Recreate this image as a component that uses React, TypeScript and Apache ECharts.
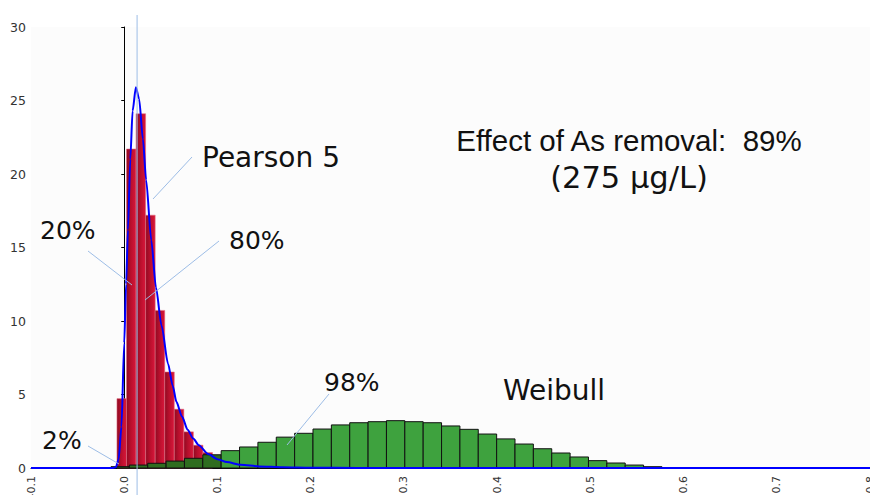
import React, { useEffect, useRef } from "react";
import * as echarts from "echarts";

// ---- data ----
const X_MIN = -0.1;
const X_MAX = 0.8;
const X_STEP = 0.1;
const Y_MIN = 0;
const Y_MAX = 30;
const Y_STEP = 5;

// Pearson 5 fitted histogram (red)
const RED_START = -0.0078;
const RED_WIDTH = 0.01025;
const RED_VALUES = [4.72, 21.7, 24.1, 17.2, 10.72, 6.53, 4.0, 2.46, 1.55, 1.05];

// Weibull histogram (green)
const GREEN_START = -0.0142;
const GREEN_WIDTH = 0.0197;
const GREEN_VALUES = [
  0.09, 0.2, 0.32, 0.47, 0.66, 0.9, 1.18, 1.43, 1.75, 2.1, 2.36, 2.65, 2.93, 3.08, 3.15,
  3.22, 3.15, 3.08, 2.86, 2.63, 2.31, 1.98, 1.63, 1.31, 1.02, 0.75, 0.5, 0.34, 0.2, 0.09,
  0.03,
];

// Pearson 5 density curve (blue)
const CURVE_X = [
  -0.1, -0.012, -0.009, -0.006, -0.003, 0.0, 0.002, 0.004, 0.0065, 0.009, 0.0125, 0.016,
  0.02, 0.0235, 0.029, 0.034, 0.04, 0.047, 0.052, 0.056, 0.062, 0.068, 0.074, 0.08, 0.09,
  0.1, 0.11, 0.125, 0.145, 0.17, 0.2, 0.25, 0.8,
];
const CURVE_Y = [
  0, 0, 0.05, 0.6, 2.8, 8.5, 12.5, 16.2, 21.0, 24.3, 25.9, 25.1, 22.4, 19.6, 15.5, 12.3,
  9.7, 7.1, 5.6, 4.5, 3.5, 2.6, 2.0, 1.55, 0.95, 0.6, 0.4, 0.22, 0.11, 0.05, 0.02, 0, 0,
];

// Marker (vertical reference line)
const MARKER_X = 0.0138;

// Annotation texts
const LABEL_20 = "20%";
const LABEL_80 = "80%";
const LABEL_98 = "98%";
const LABEL_2 = "2%";
const LABEL_PEARSON = "Pearson 5";
const LABEL_WEIBULL = "Weibull";
const EFFECT_LINE1 = "Effect of As removal:  89%";
const EFFECT_LINE2 = "(275 µg/L)";

export default function App() {
  const ref = useRef<HTMLDivElement>(null);

  useEffect(() => {
    if (!ref.current) return;
    const chart = echarts.init(ref.current, undefined, { renderer: "svg" });

    const redData = RED_VALUES.map((v, i) => [
      RED_START + i * RED_WIDTH,
      RED_START + (i + 1) * RED_WIDTH,
      v,
    ]);
    const redEnd = RED_START + RED_VALUES.length * RED_WIDTH;
    const greenData = GREEN_VALUES.map((v, i) => [
      GREEN_START + i * GREEN_WIDTH,
      GREEN_START + (i + 1) * GREEN_WIDTH,
      v,
    ]);
    const curveData = CURVE_X.map((x, i) => [x, CURVE_Y[i]]);

    const redFill = new echarts.graphic.LinearGradient(0, 0, 1, 0, [
      { offset: 0, color: "#8f0a22" },
      { offset: 0.45, color: "#b80f2c" },
      { offset: 1, color: "#d8173b" },
    ]);

    const renderRed = (params: any, api: any) => {
      const p0 = api.coord([api.value(0), api.value(2)]);
      const p1 = api.coord([api.value(1), 0]);
      return {
        type: "rect",
        shape: { x: p0[0], y: p0[1], width: p1[0] - p0[0], height: p1[1] - p0[1] },
        style: { fill: redFill, stroke: "rgba(225,110,130,0.55)", lineWidth: 1 },
      };
    };
    const renderGreen = (params: any, api: any) => {
      const x0 = api.value(0);
      const p0 = api.coord([x0, api.value(2)]);
      const p1 = api.coord([api.value(1), 0]);
      const dark = x0 < redEnd - 0.005;
      return {
        type: "rect",
        shape: { x: p0[0], y: p0[1], width: p1[0] - p0[0], height: p1[1] - p0[1] },
        style: { fill: dark ? "#2f6d1f" : "#3ea23e", stroke: "#111", lineWidth: 1 },
      };
    };

    const leader = "#9dbde6";
    const textFont = "DejaVu Sans";

    chart.setOption({
      animation: false,
      grid: {
        left: 31,
        right: 0,
        top: 27,
        bottom: 27,
        containLabel: false,
        outerBoundsMode: "none",
        show: true,
        backgroundColor: "#fcfcfc",
        borderWidth: 0,
      },
      xAxis: {
        type: "value",
        min: X_MIN,
        max: X_MAX,
        interval: X_STEP,
        axisLine: { show: true, lineStyle: { color: "#000", width: 1 } },
        axisTick: { show: false },
        splitLine: { show: false },
        axisLabel: {
          rotate: 90,
          margin: 8,
          fontSize: 11,
          color: "#333",
          fontFamily: textFont,
          hideOverlap: false,
          formatter: (v: number) => v.toFixed(1),
        },
      },
      yAxis: {
        type: "value",
        min: Y_MIN,
        max: Y_MAX,
        interval: Y_STEP,
        axisLine: { show: true, lineStyle: { color: "#000", width: 1 } },
        axisTick: { show: true, length: 3, lineStyle: { color: "#000" } },
        splitLine: { show: false },
        axisLabel: { fontSize: 12.5, color: "#333", margin: 5, fontFamily: textFont },
      },
      series: [
        {
          type: "custom",
          name: "Pearson histogram",
          renderItem: renderRed,
          data: redData,
          encode: { x: [0, 1], y: 2 },
          z: 2,
        },
        {
          type: "custom",
          name: "Weibull histogram",
          renderItem: renderGreen,
          data: greenData,
          encode: { x: [0, 1], y: 2 },
          z: 3,
        },
        {
          type: "line",
          name: "Pearson 5",
          data: curveData,
          showSymbol: false,
          smooth: 0.25,
          smoothMonotone: "x",
          lineStyle: { color: "#0000ff", width: 2 },
          z: 5,
        },
      ],
    });

    const mx = chart.convertToPixel({ xAxisIndex: 0 }, MARKER_X) as number;

    const txt = (text: string, x: number, y: number, size: number, family = textFont, align = "left") => ({
      type: "text",
      x,
      y,
      z: 20,
      style: {
        text,
        fontSize: size,
        fontFamily: family,
        fill: "#111",
        textAlign: align,
        textVerticalAlign: "bottom",
      },
    });
    const ln = (x1: number, y1: number, x2: number, y2: number) => ({
      type: "line",
      z: 15,
      shape: { x1, y1, x2, y2 },
      style: { stroke: leader, lineWidth: 1 },
    });

    chart.setOption({
      graphic: [
        {
          type: "line",
          z: 10,
          shape: { x1: mx, y1: 15, x2: mx, y2: 495 },
          style: { stroke: leader, lineWidth: 1 },
        },
        ln(192, 157, 153, 199),
        ln(88, 251, 132, 285),
        ln(219, 241, 145, 300),
        ln(329, 394, 287, 445),
        ln(88, 446, 119, 464),
        txt(LABEL_20, 40, 243, 25),
        txt(LABEL_80, 229, 253, 25),
        txt(LABEL_98, 324, 395, 25),
        txt(LABEL_2, 42, 453, 25),
        txt(LABEL_PEARSON, 202, 171, 28),
        txt(LABEL_WEIBULL, 503, 404, 28),
        txt(EFFECT_LINE1, 629, 155, 29.5, "Liberation Sans", "center"),
        txt(EFFECT_LINE2, 629, 193, 30.5, textFont, "center"),
      ],
    });

    return () => chart.dispose();
  }, []);

  return (
    <div
      ref={ref}
      style={{ position: "fixed", left: 0, top: 0, width: 870, height: 495, background: "#fff" }}
    />
  );
}
